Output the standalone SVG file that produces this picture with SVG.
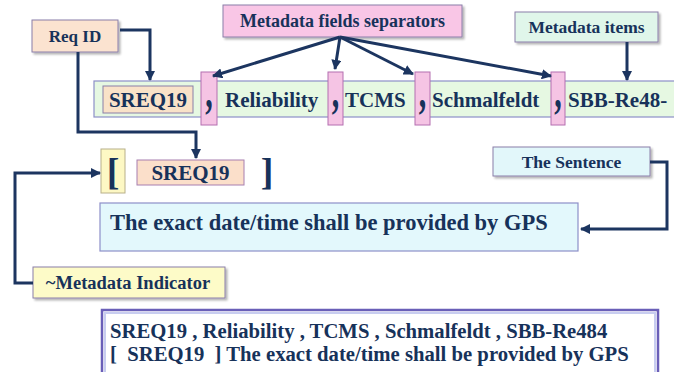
<svg xmlns="http://www.w3.org/2000/svg" width="674" height="372" viewBox="0 0 674 372" font-family="'Liberation Serif', 'DejaVu Serif', serif">
  <style>
    text { font-family: "Liberation Serif", Tinos, "Times New Roman", "DejaVu Serif", serif; font-weight: 700; fill: #17325a; }
    .lbl { stroke: #8a7fa8; stroke-width: 1; filter: url(#shadow); }
    .conn { fill: none; stroke: #1c3560; stroke-width: 3; stroke-linejoin: miter; }
    .sep { fill: #f5c4e4; stroke: #b46fb0; stroke-width: 1; }
  </style>
  <defs>
    <marker id="arrow" viewBox="0 0 10 10" refX="9" refY="5" markerWidth="3.4" markerHeight="3.4" orient="auto" markerUnits="strokeWidth">
      <path d="M0,0 L10,5 L0,10 z" fill="#1c3560"/>
    </marker>
    <filter id="shadow" x="-10%" y="-20%" width="125%" height="150%">
      <feGaussianBlur in="SourceAlpha" stdDeviation="1.2"/>
      <feOffset dx="1.5" dy="1.5" result="b"/>
      <feComponentTransfer><feFuncA type="linear" slope="0.3"/></feComponentTransfer>
      <feMerge><feMergeNode/><feMergeNode in="SourceGraphic"/></feMerge>
    </filter>
  </defs>

  <rect width="674" height="372" fill="#ffffff"/>

  <!-- metadata row -->
  <g id="metadata-row">
    <rect x="94" y="81" width="590" height="36" fill="#e6f8e2" stroke="#8d8fc8" stroke-width="1.2"/>
    <rect x="103" y="86" width="90" height="27" fill="#f9e2c8" stroke="#8a7fa8" stroke-width="1"/>
    <text x="148" y="107" font-size="21" text-anchor="middle">SREQ19</text>
    <text x="225" y="107" font-size="21">Reliability</text>
    <text x="345" y="107" font-size="21">TCMS</text>
    <text x="432" y="107" font-size="21">Schmalfeldt</text>
    <text x="568" y="107" font-size="21">SBB-Re48-</text>
  </g>

  <!-- field separators -->
  <g id="separators">
    <rect class="sep" x="201" y="72" width="16" height="53"/>
    <rect class="sep" x="328" y="72" width="15" height="53"/>
    <rect class="sep" x="415" y="72" width="15" height="53"/>
    <rect class="sep" x="551" y="72" width="14" height="53"/>
    <g font-size="30">
      <text x="209" y="107" text-anchor="middle" transform="translate(0,107) scale(1,1.6) translate(0,-107)">,</text>
      <text x="335.5" y="107" text-anchor="middle" transform="translate(0,107) scale(1,1.6) translate(0,-107)">,</text>
      <text x="422.5" y="107" text-anchor="middle" transform="translate(0,107) scale(1,1.6) translate(0,-107)">,</text>
      <text x="558" y="107" text-anchor="middle" transform="translate(0,107) scale(1,1.6) translate(0,-107)">,</text>
    </g>
  </g>

  <!-- labels -->
  <g id="req-id">
    <rect class="lbl" x="32" y="20" width="86" height="32" fill="#fbe3d0"/>
    <text x="75" y="42" font-size="17" text-anchor="middle">Req ID</text>
  </g>
  <g id="fields-separators">
    <rect class="lbl" x="223" y="5" width="239" height="32" fill="#f9c6e6"/>
    <text x="342.5" y="27" font-size="18" text-anchor="middle">Metadata fields separators</text>
  </g>
  <g id="metadata-items">
    <rect class="lbl" x="515" y="12" width="143" height="30" fill="#e0f6ea"/>
    <text x="586.5" y="33" font-size="17.5" text-anchor="middle">Metadata items</text>
  </g>
  <g id="the-sentence-label">
    <rect class="lbl" x="493" y="147" width="157" height="29" fill="#e2f7fa"/>
    <text x="571.5" y="168" font-size="17.5" text-anchor="middle">The Sentence</text>
  </g>
  <g id="metadata-indicator">
    <rect class="lbl" x="33" y="267" width="192" height="31" fill="#fdfbc8"/>
    <text x="128" y="289" font-size="18.5" text-anchor="middle">~Metadata Indicator</text>
  </g>

  <!-- indicator line -->
  <g id="indicator-row">
    <rect x="101" y="149" width="24" height="44" fill="#fdf8c4" stroke="#b8b08a" stroke-width="1"/>
    <text x="113" y="185" font-size="38" text-anchor="middle">[</text>
    <rect x="137" y="160" width="107" height="25" fill="#fbdfca" stroke="#a77fb0" stroke-width="1"/>
    <text x="190.5" y="180" font-size="21" text-anchor="middle">SREQ19</text>
    <text x="267" y="185" font-size="38" text-anchor="middle">]</text>
  </g>

  <!-- requirement sentence -->
  <g id="sentence">
    <rect x="100" y="203" width="478" height="48" fill="#e3f8fc" stroke="#8d8fc8" stroke-width="1.2"/>
    <text x="110" y="230" font-size="22.5">The exact date/time shall be provided by GPS</text>
  </g>

  <!-- combined result -->
  <g id="result">
    <rect x="102" y="310" width="556" height="70" fill="#ffffff" stroke="#6a5fb8" stroke-width="2.5"/>
    <rect x="105" y="313" width="550" height="64" fill="none" stroke="#c8cdf0" stroke-width="2"/>
    <text x="110" y="338" font-size="20.7">SREQ19 , Reliability , TCMS , Schmalfeldt , SBB-Re484</text>
    <text x="110" y="361" font-size="20.7" xml:space="preserve">[  SREQ19  ] The exact date/time shall be provided by GPS</text>
  </g>

  <!-- connectors -->
  <g id="connectors">
    <path class="conn" d="M120,30 H150 V80" marker-end="url(#arrow)"/>
    <path class="conn" d="M78,52 V132 H196 V158" marker-end="url(#arrow)"/>
    <path class="conn" d="M340,37 L213,76" marker-end="url(#arrow)"/>
    <path class="conn" d="M340,37 L335,69" marker-end="url(#arrow)"/>
    <path class="conn" d="M340,37 L413,74" marker-end="url(#arrow)"/>
    <path class="conn" d="M340,37 L551,76" marker-end="url(#arrow)"/>
    <path class="conn" d="M627,42 V80" marker-end="url(#arrow)"/>
    <path class="conn" d="M650,162 H667 V229 H581" marker-end="url(#arrow)"/>
    <path class="conn" d="M33,283 H15 V173 H100" marker-end="url(#arrow)"/>
  </g>
</svg>
